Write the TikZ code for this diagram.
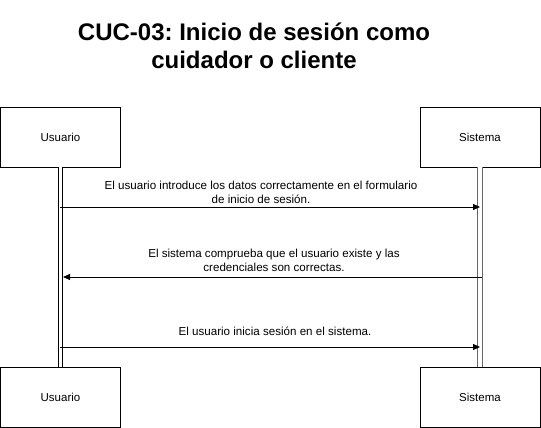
\documentclass[tikz,border=0pt]{standalone}
\usepackage{fontspec}
\setmainfont{Liberation Sans}
\usetikzlibrary{arrows.meta, positioning, calc}
\frenchspacing

\begin{document}
\begin{tikzpicture}[
  x=1pt, y=-1pt,
  actor/.style={rectangle, draw=black, line width=0.8pt, fill=white,
                minimum width=120pt, minimum height=60pt,
                align=center, font=\fontsize{11.5}{13}\selectfont},
  lifeline/.style={draw=black, line width=0.8pt, double=white, double distance=3.5pt},
  msg/.style={-{Triangle[length=7pt, width=6pt]}, line width=0.8pt},
  msgtext/.style={align=center, font=\fontsize{11.6}{14.5}\selectfont, inner sep=0pt}
]
  \useasboundingbox (0,0) rectangle (541,428);

  % title
  \node[align=center, font=\fontsize{24}{28}\selectfont\bfseries] (title) at (254,46)
    {CUC-03: Inicio de sesión como\\cuidador o cliente};

  % participants
  \node[actor] (usuTop) at (60.5,137) {Usuario};
  \node[actor] (sisTop) at (480,137) {Sistema};
  \node[actor] (usuBot) at (60.5,397) {Usuario};
  \node[actor] (sisBot) at (480,397) {Sistema};

  % lifelines
  \draw[lifeline] (usuTop) -- (usuBot);
  \draw[lifeline, draw=black!60] (sisTop) -- (sisBot);

  % message points
  \coordinate (u1) at (60,207);
  \coordinate (s1) at (480,207);
  \coordinate (s2) at (482,277);
  \coordinate (u2) at (63,277);
  \coordinate (u3) at (60,347);
  \coordinate (s3) at (480,347);

  % messages
  \draw[msg] (u1) -- (s1);
  \node[msgtext] (txt1) at (261,192.5)
    {El usuario introduce los datos correctamente en el formulario\\de inicio de sesión.};
  \draw[msg] (s2) -- (u2);
  \node[msgtext] (txt2) at (274,260.5)
    {El sistema comprueba que el usuario existe y las\\credenciales son correctas.};
  \draw[msg] (u3) -- (s3);
  \node[msgtext] (txt3) at (275,331) {El usuario inicia sesión en el sistema.};
\end{tikzpicture}
\end{document}
